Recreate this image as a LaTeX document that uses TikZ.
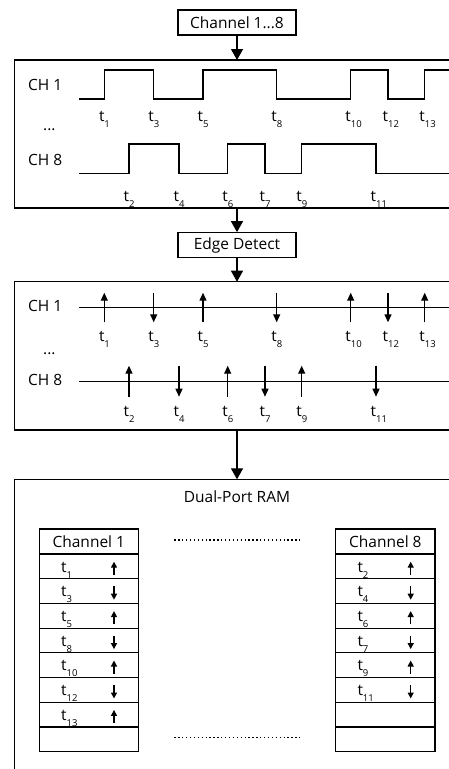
\documentclass[tikz,border=0pt]{standalone}
\usepackage{fontspec}
\setmainfont{Open Sans}
\usetikzlibrary{arrows.meta}
\newcommand\tlab[1]{t\raisebox{-6pt}{\fontsize{9.5}{9.5}\selectfont #1}}
\begin{document}
\begin{tikzpicture}[x=1pt,y=-1pt,
  every node/.style={font=\fontsize{15.5}{17}\selectfont, inner sep=0pt},
  lbox/.style={draw, line width=1.2pt, minimum width=118pt, minimum height=25pt},
  frame/.style={line width=1.2pt},
  conn/.style={line width=1.3pt, -{Triangle[width=12pt,length=11pt]}},
  sig/.style={line width=1.3pt},
  edgeup/.style={line width=1.3pt, -{Triangle[width=7pt,length=8pt]}},
  tarr/.style={line width=1.3pt, -{Triangle[width=6pt,length=6pt]}},
  cell/.style={line width=1.2pt},
  dotline/.style={line width=1.4pt, dash pattern=on 1.3pt off 2.6pt}
]
\useasboundingbox (0,0) rectangle (449,769);
\fill[white] (0,0) rectangle (449,769);
\begin{scope}
\clip (0,0) rectangle (449,769);

% top label box
\node[lbox] (ch18) at (237,22.5) {Channel 1...8};
% signal box (runs off the right edge)
\draw[frame] (480,60) -- (14.5,60) -- (14.5,208) -- (480,208);
\coordinate (sigtop) at (237,60);
\coordinate (sigbot) at (237,208);
\draw[conn] (ch18.south) -- (sigtop);

% CH labels
\node[anchor=base west] (l1) at (28,90.7) {CH 1};
\node[anchor=base west] (ld1) at (43,130) {...};
\node[anchor=base west] (l8) at (28,165) {CH 8};

% waveforms
\draw[sig] (79,99) -- (104.3,99) -- (104.3,70) -- (153.7,70) -- (153.7,99) -- (203,99) -- (203,70)
  -- (276.7,70) -- (276.7,99) -- (350.7,99) -- (350.7,70) -- (388,70) -- (388,99) -- (424.7,99)
  -- (424.7,70) -- (480,70);
\draw[sig] (79,173.3) -- (129,173.3) -- (129,144) -- (179,144) -- (179,173.3) -- (227.7,173.3)
  -- (227.7,144) -- (265,144) -- (265,173.3) -- (301.7,173.3) -- (301.7,144) -- (376,144)
  -- (376,173.3) -- (480,173.3);

\foreach \x/\n in {104.3/1,153.7/3,203/5,276.7/8,350.7/10,388/12,424.7/13}
  \node[anchor=base west] at (\x-5.5,121.7) {\tlab{\n}};
\foreach \x/\n in {129/2,179/4,227.7/6,265/7,301.7/9,376/11}
  \node[anchor=base west] at (\x-5.5,201.7) {\tlab{\n}};

% edge detect
\node[lbox, minimum height=24.5pt] (edge) at (237,245) {Edge Detect};
\draw[conn] (sigbot) -- (edge.north);
\draw[frame] (480,281.7) -- (14.5,281.7) -- (14.5,430) -- (480,430);
\coordinate (edgetop) at (237,281.7);
\coordinate (edgebot) at (237,430);
\draw[conn] (edge.south) -- (edgetop);

\node[anchor=base west] (e1) at (28,311.7) {CH 1};
\node[anchor=base west] (ed1) at (43,354) {...};
\node[anchor=base west] (e8) at (28,385.7) {CH 8};
\draw[sig] (79,307.3) -- (480,307.3);
\draw[sig] (79,381.7) -- (480,381.7);

\foreach \x/\n/\d in {104.3/1/u,153.7/3/d,203/5/u,276.7/8/d,350.7/10/u,388/12/d,424.7/13/u}{
  \if u\d \draw[edgeup] (\x,322.3) -- (\x,292.7); \else \draw[edgeup] (\x,292.7) -- (\x,322.3); \fi
  \node[anchor=base west] at (\x-5.5,341.7) {\tlab{\n}};
}
\foreach \x/\n/\d in {129/2/u,179/4/d,227.7/6/u,265/7/d,301.7/9/u,376/11/d}{
  \if u\d \draw[edgeup] (\x,396.7) -- (\x,365.7); \else \draw[edgeup] (\x,365.7) -- (\x,396.7); \fi
  \node[anchor=base west] at (\x-5.5,416.7) {\tlab{\n}};
}

% RAM box (runs off right and bottom)
\draw[frame] (480,479.3) -- (14.5,479.3) -- (14.5,800);
\coordinate (ramtop) at (237,479.3);
\draw[conn] (edgebot) -- (ramtop);
\node[anchor=base] (ramlab) at (237,502.3) {Dual-Port RAM};

% tables
\node[draw, cell, minimum width=99pt, minimum height=25pt] (tab1) at (88.8,541.5) {Channel 1};
\node[draw, cell, minimum width=99.3pt, minimum height=25pt] (tab8) at (385.35,541.5) {Channel 8};
\foreach \k in {0,...,7}{
  \draw[cell] (39.3,554+\k*24.7) rectangle (138.3,554+\k*24.7+24.7);
  \draw[cell] (335.7,554+\k*24.7) rectangle (435,554+\k*24.7+24.7);
}
\foreach \k/\n/\d in {0/1/u,1/3/d,2/5/u,3/8/d,4/10/u,5/12/d,6/13/u}{
  \node[anchor=base west] at (61,554+\k*24.7+18) {\tlab{\n}};
  \if u\d \draw[tarr] (114,554+\k*24.7+21) -- (114,554+\k*24.7+7.7);
  \else \draw[tarr] (114,554+\k*24.7+7.7) -- (114,554+\k*24.7+21); \fi
}
\foreach \k/\n/\d in {0/2/u,1/4/d,2/6/u,3/7/d,4/9/u,5/11/d}{
  \node[anchor=base west] at (357.3,554+\k*24.7+18) {\tlab{\n}};
  \if u\d \draw[tarr] (410.7,554+\k*24.7+21) -- (410.7,554+\k*24.7+7.7);
  \else \draw[tarr] (410.7,554+\k*24.7+7.7) -- (410.7,554+\k*24.7+21); \fi
}
\draw[dotline] (174.3,540) -- (301.7,540);
\draw[dotline] (174.3,737.3) -- (301.7,737.3);
\end{scope}
\end{tikzpicture}
\end{document}
